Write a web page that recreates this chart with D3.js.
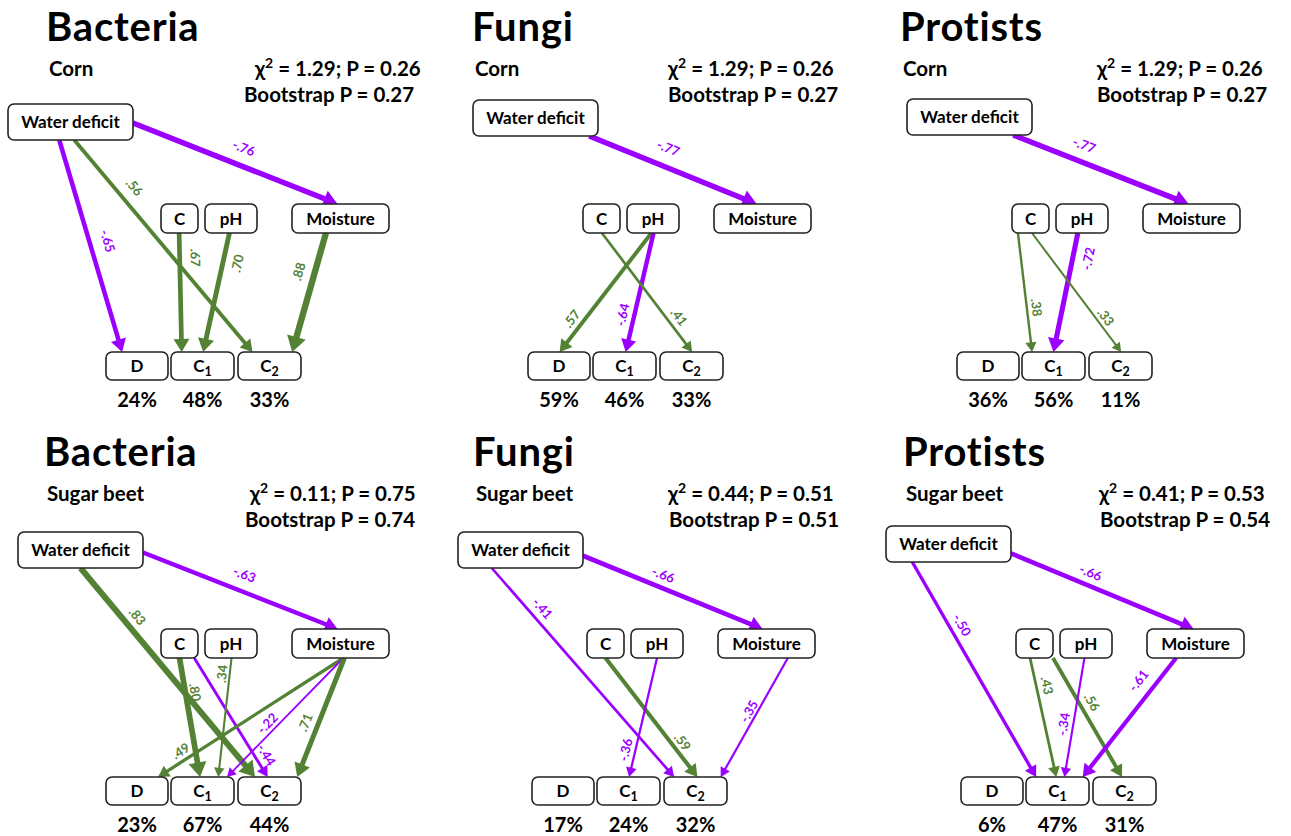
<!DOCTYPE html>
<html>
<head>
<meta charset="utf-8">
<script src="https://cdn.jsdelivr.net/npm/d3@7"></script>
<style>
  body { margin: 0; background: #fff; }
  svg { display: block; }
  text { font-family: Lato, "Open Sans", sans-serif; font-weight: 700; fill: #000; }
</style>
</head>
<body>
<div id="chart"></div>
<script>
/***** Data *****/
const taxa = ["Bacteria", "Fungi", "Protists", "Bacteria", "Fungi", "Protists"];
const crops = ["Corn", "Corn", "Corn", "Sugar beet", "Sugar beet", "Sugar beet"];
const chiSq = ["1.29", "1.29", "1.29", "0.11", "0.44", "0.41"];
const chiP = ["0.26", "0.26", "0.26", "0.75", "0.51", "0.53"];
const bootP = ["0.27", "0.27", "0.27", "0.74", "0.51", "0.54"];
const responses = ["D", "C1", "C2"];
const r2 = [[24, 48, 33], [59, 46, 33], [36, 56, 11], [23, 67, 44], [17, 24, 32], [6, 47, 31]];

// paths : [from, to, standardized coefficient]
const paths = [
    [["WD", "M", -0.76], ["WD", "D", -0.65], ["WD", "C2", 0.56], ["C", "C1", 0.67], ["pH", "C1", 0.70], ["M", "C2", 0.88]],
    [["WD", "M", -0.77], ["pH", "D", 0.57], ["pH", "C1", -0.64], ["C", "C2", 0.41]],
    [["WD", "M", -0.77], ["C", "C1", 0.38], ["pH", "C1", -0.72], ["C", "C2", 0.33]],
    [["WD", "M", -0.63], ["WD", "C2", 0.83], ["C", "C1", 0.80], ["C", "C2", -0.44], ["pH", "C1", 0.34], ["M", "D", 0.49], ["M", "C1", -0.22], ["M", "C2", 0.71]],
    [["WD", "M", -0.66], ["WD", "C2", -0.41], ["C", "C2", 0.59], ["pH", "C1", -0.36], ["M", "C2", -0.35]],
    [["WD", "M", -0.66], ["WD", "C1", -0.50], ["C", "C1", 0.43], ["C", "C2", 0.56], ["pH", "C1", -0.34], ["M", "C1", -0.61]]
];

/***** Layout *****/
const width = 1291, height = 836;
const purple = "#9b00ff", green = "#548235";

// origin of the D box in each panel, and offset of the Water deficit box from it
const panelOrigin = [[106, 352], [528, 352], [957, 352], [106, 777], [532, 777], [961, 777]];
const wdOffset = [[-98, -248], [-55, -252], [-50, -253], [-88, -245], [-74, -245], [-75, -251]];
const headerX = [46, 472, 900, 44, 473, 903];
const chiX = [255, 668, 1097, 250, 668, 1099];
const bootX = [244, 668, 1097, 245, 669, 1100];

// node boxes relative to D box
const nodeBox = {
    C:  { x: 55,  y: -148, w: 37, h: 29, label: "C" },
    pH: { x: 99,  y: -148, w: 52, h: 29, label: "pH" },
    M:  { x: 186, y: -148, w: 97, h: 29, label: "Moisture" },
    D:  { x: 0,   y: 0,    w: 62, h: 28, label: "D" },
    C1: { x: 65,  y: 0,    w: 63, h: 28, label: "C", sub: "1" },
    C2: { x: 132, y: 0,    w: 63, h: 28, label: "C", sub: "2" }
};

// anchors per path : [source fx, source fy, target fx, label t, label offset]
const anchors = [
    [[1, 0.53, 0.47, 0.51, -18], [0.41, 1, 0.26, 0.50, -18], [0.53, 1, 0.23, 0.27, -16], [0.49, 1, 0.17, 0.21, -16], [0.47, 1, 0.51, 0.23, -14], [0.35, 1, 0.86, 0.36, 16]],
    [[0.93, 1, 0.44, 0.43, -19], [0.47, 1, 0.51, 0.775, 11], [0.51, 1, 0.52, 0.71, 12], [0.51, 1, 0.51, 0.76, -11]],
    [[0.85, 1, 0.47, 0.37, -17], [0.16, 1, 0.16, 0.635, -10], [0.42, 1, 0.5, 0.19, -15], [0.54, 1, 0.51, 0.75, -9]],
    [[1, 0.57, 0.47, 0.49, -17], [0.5, 1, 0.27, 0.27, -13], [0.5, 1, 0.46, 0.30, -10], [0.9, 1, 0.47, 0.86, -11], [0.51, 1, 0.75, 0.14, 8], [0.53, 1, 0.84, 0.85, 10], [0.53, 1, 0.89, 0.6, 9], [0.54, 1, 0.94, 0.58, 13]],
    [[1, 0.66, 0.46, 0.42, -13], [0.27, 1, 0.16, 0.23, -12], [0.5, 1, 0.53, 0.755, -10], [0.5, 1, 0.51, 0.79, 10], [0.72, 1, 0.9, 0.48, 8]],
    [[1, 0.76, 0.48, 0.41, -13], [0.21, 1, 0.16, 0.32, -12], [0.38, 1, 0.48, 0.25, -11], [1, 1, 0.46, 0.42, -12], [0.47, 1, 0.61, 0.57, 10], [0.3, 1, 0.9, 0.27, 16]]
];

var strokeScale = d3.scaleLinear().domain([0.3, 0.9]).range([1.8, 6.5]).clamp(true);
var fmtCoef = function(c) { return (c < 0 ? "-" : "") + d3.format(".2f")(Math.abs(c)).slice(1); };

var svg = d3.select("#chart").append("svg")
    .attr("width", width)
    .attr("height", height)
    .attr("viewBox", [0, 0, width, height]);

svg.append("rect").attr("width", width).attr("height", height).attr("fill", "#fff");

function boxesFor(p) {
    var o = panelOrigin[p];
    var boxes = {};
    boxes.WD = { x: o[0] + wdOffset[p][0], y: o[1] + wdOffset[p][1], w: 125, h: 36, label: "Water deficit" };
    Object.keys(nodeBox).forEach(function(k) {
        var b = nodeBox[k];
        boxes[k] = { x: o[0] + b.x, y: o[1] + b.y, w: b.w, h: b.h, label: b.label, sub: b.sub };
    });
    return boxes;
}

/***** Draw each panel *****/
taxa.forEach(function(taxon, p) {
    var o = panelOrigin[p];
    var boxes = boxesFor(p);
    var g = svg.append("g").attr("class", "panel");

    // headers
    g.append("text").attr("x", headerX[p]).attr("y", o[1] - 311)
        .attr("font-size", 40).attr("letter-spacing", 0.8).text(taxon);
    g.append("text").attr("x", headerX[p] + 3).attr("y", o[1] - 276)
        .attr("font-size", 20.5).text(crops[p]);

    var chi = g.append("text").attr("x", chiX[p]).attr("y", o[1] - 276).attr("font-size", 20.5);
    chi.append("tspan").text("χ");
    chi.append("tspan").attr("dy", -8).attr("font-size", 14).text("2");
    chi.append("tspan").attr("dy", 8).text(" = " + chiSq[p] + "; P = " + chiP[p]);

    g.append("text").attr("x", bootX[p]).attr("y", o[1] - 250)
        .attr("font-size", 20.5).text("Bootstrap P = " + bootP[p]);

    // paths (arrows)
    var arrows = g.append("g").attr("class", "arrows");
    paths[p].forEach(function(e, i) {
        var a = anchors[p][i];
        var s = boxes[e[0]], t = boxes[e[1]];
        var x1 = s.x + a[0] * s.w, y1 = s.y + a[1] * s.h;
        var x2 = t.x + a[2] * t.w, y2 = t.y;
        var dx = x2 - x1, dy = y2 - y1, len = Math.sqrt(dx * dx + dy * dy);
        var ux = dx / len, uy = dy / len;
        var w = strokeScale(Math.abs(e[2]));
        var col = e[2] < 0 ? purple : green;
        var headL = 6 + 1.5 * w, headH = 3 + 1.05 * w;

        arrows.append("path")
            .attr("d", d3.line()([[x1, y1], [x2 - ux * headL * 0.8, y2 - uy * headL * 0.8]]))
            .attr("stroke", col)
            .attr("stroke-width", w)
            .attr("fill", "none");

        var bx = x2 - ux * headL, by = y2 - uy * headL;
        arrows.append("path")
            .attr("d", d3.line()([[x2, y2], [bx - uy * headH, by + ux * headH], [bx + uy * headH, by - ux * headH]]) + "Z")
            .attr("fill", col);

        // coefficient label
        var nx = -uy, ny = ux;
        var lx = x1 + a[3] * dx + a[4] * nx, ly = y1 + a[3] * dy + a[4] * ny;
        var ang = Math.atan2(dy, dx) * 180 / Math.PI;
        if (ang > 90) ang -= 180;
        if (ang < -90) ang += 180;
        arrows.append("text")
            .attr("transform", "translate(" + lx + "," + ly + ") rotate(" + ang + ")")
            .attr("text-anchor", "middle")
            .attr("dominant-baseline", "central")
            .attr("font-size", 13)
            .style("fill", col)
            .text(fmtCoef(e[2]));
    });

    // node boxes
    var nodes = g.selectAll("g.node")
        .data(Object.keys(boxes).map(function(k) { return boxes[k]; }))
        .enter().append("g")
        .attr("class", "node");

    nodes.append("rect")
        .attr("x", function(d) { return d.x; })
        .attr("y", function(d) { return d.y; })
        .attr("width", function(d) { return d.w; })
        .attr("height", function(d) { return d.h; })
        .attr("rx", 6)
        .attr("fill", "#fff")
        .attr("stroke", "#222")
        .attr("stroke-width", 1.6);

    var lbl = nodes.append("text")
        .attr("x", function(d) { return d.x + d.w / 2; })
        .attr("y", function(d) { return d.y + d.h / 2 + 6; })
        .attr("text-anchor", "middle")
        .attr("font-size", 17);
    lbl.append("tspan").text(function(d) { return d.label; });
    lbl.filter(function(d) { return d.sub; }).append("tspan")
        .attr("dy", 4).attr("font-size", 12.5)
        .text(function(d) { return d.sub; });

    // explained variance under responses
    g.selectAll("text.r2")
        .data(responses)
        .enter().append("text")
        .attr("class", "r2")
        .attr("x", function(d) { return boxes[d].x + boxes[d].w / 2; })
        .attr("y", o[1] + 55)
        .attr("text-anchor", "middle")
        .attr("font-size", 20)
        .text(function(d, i) { return r2[p][i] + "%"; });
});
</script>
</body>
</html>
